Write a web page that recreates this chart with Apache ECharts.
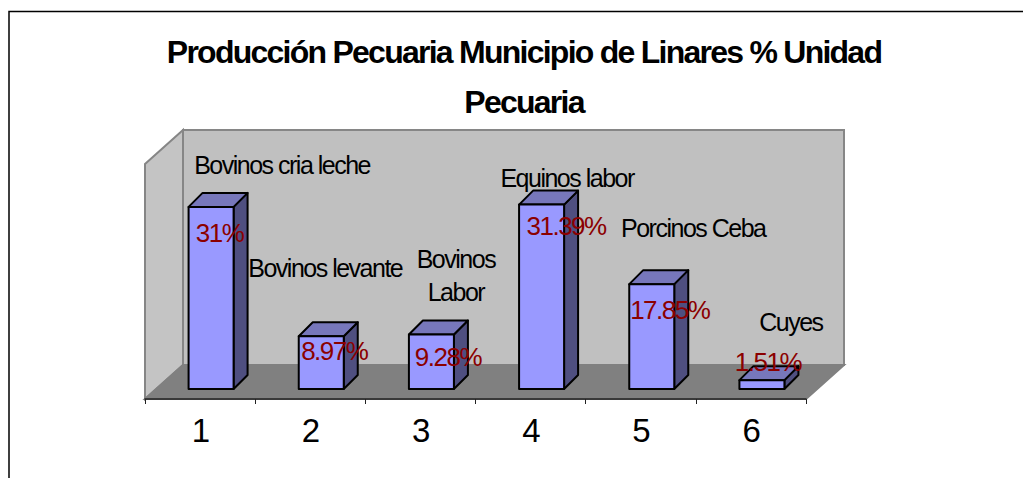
<!DOCTYPE html>
<html>
<head>
<meta charset="utf-8">
<script src="https://cdn.jsdelivr.net/npm/echarts@6/dist/echarts.min.js"></script>
<style>
    html, body, #main { width: 100%; height: 100%; margin: 0; background: #fff; }
    /* the original has squeezed glyph spacing */
    #main text { letter-spacing: -1.5px; }
    #main text[style*="bold"] { letter-spacing: -1.75px; }
</style>
</head>
<body>
<div id="main"></div>
<script>
var titleText = 'Producción Pecuaria Municipio de Linares % Unidad\nPecuaria';
var categories = ['1', '2', '3', '4', '5', '6'];
var values = [31, 8.97, 9.28, 31.39, 17.85, 1.51];
var valueLabels = ['31%', '8.97%', '9.28%', '31.39%', '17.85%', '1.51%'];
var names = ['Bovinos cria leche', 'Bovinos levante', 'Bovinos\nLabor', 'Equinos labor', 'Porcinos Ceba', 'Cuyes'];

// hand placed labels, px from top centre of the bar front
var nameNudge = [[71, -42], [4, -68], [24.5, -58.5], [25.5, -27], [41.5, -56], [29, -58]];
var valueNudge = [[8.5, 26], [13, 15], [16.5, 23], [24.5, 21], [18, 26], [6, -18]];

var FLOOR_DX = 38, FLOOR_DY = -34;   // wall depth
var BAR_DX = 11, BAR_DY = -10;       // bar front inside the floor
var BAR_DEPTH = 14;
var BAR_W = 45;
var FONT = '"Liberation Sans", Arial, sans-serif';

function barShape(points, fill) {
    return {
        type: 'polygon',
        shape: { points: points },
        style: { fill: fill, stroke: '#000', lineWidth: 2, lineJoin: 'round' }
    };
}

function wallShape(points, fill, stroke) {
    return {
        type: 'polygon',
        shape: { points: points },
        style: { fill: fill, stroke: stroke, lineWidth: 2 }
    };
}

function renderWalls(params, api) {
    var r = params.coordSys;
    var l = r.x, b = r.y + r.height, t = r.y, w = r.width;
    var dx = FLOOR_DX, dy = FLOOR_DY;
    return {
        type: 'group',
        children: [
            wallShape([[l + dx, t + dy], [l + w + dx, t + dy], [l + w + dx, b + dy], [l + dx, b + dy]], '#c0c0c0', '#868686'),
            wallShape([[l, t], [l + dx, t + dy], [l + dx, b + dy], [l, b]], '#c4c4c4', '#868686'),
            wallShape([[l, b], [l + dx, b + dy], [l + w + dx, b + dy], [l + w, b]], '#808080', '#808080')
        ]
    };
}

function renderBar(params, api) {
    var top = api.coord([api.value(0), api.value(1)]);
    var base = api.coord([api.value(0), 0]);
    var x0 = top[0] + BAR_DX - BAR_W / 2, x1 = x0 + BAR_W;
    var y0 = top[1] + BAR_DY, y1 = base[1] + BAR_DY;
    var d = BAR_DEPTH;
    return {
        type: 'group',
        children: [
            barShape([[x1, y0], [x1 + d, y0 - d], [x1 + d, y1 - d], [x1, y1]], '#4f4f80'),
            barShape([[x0, y0], [x0 + d, y0 - d], [x1 + d, y0 - d], [x1, y0]], '#7777bb'),
            barShape([[x0, y0], [x1, y0], [x1, y1], [x0, y1]], '#9999ff')
        ]
    };
}

function labelShape(x, y, text, size, color) {
    return {
        type: 'text',
        x: x,
        y: y,
        style: {
            text: text,
            fill: color,
            font: size + 'px ' + FONT,
            align: 'center',
            verticalAlign: 'middle',
            lineHeight: 33
        }
    };
}

function renderLabels(params, api) {
    var i = params.dataIndex;
    var top = api.coord([api.value(0), api.value(1)]);
    var cx = top[0] + BAR_DX, cy = top[1] + BAR_DY;
    return {
        type: 'group',
        children: [
            labelShape(cx + nameNudge[i][0], cy + nameNudge[i][1], names[i], 25, '#000'),
            labelShape(cx + valueNudge[i][0], cy + valueNudge[i][1], valueLabels[i], 26, '#8b0000')
        ]
    };
}

var chart = echarts.init(document.getElementById('main'), null, { renderer: 'svg' });

chart.setOption({
    animation: false,
    title: {
        text: titleText,
        left: 519,
        top: 22,
        textAlign: 'center',
        textStyle: {
            fontFamily: FONT,
            fontSize: 32,
            fontWeight: 'bold',
            color: '#000',
            lineHeight: 50
        }
    },
    grid: { left: 145, right: 217, top: 164, bottom: 79 },
    xAxis: {
        type: 'category',
        data: categories,
        axisLine: { lineStyle: { color: '#222', width: 1.5 } },
        axisTick: { show: true, length: 5, lineStyle: { color: '#222', width: 1 } },
        axisLabel: { fontFamily: FONT, fontSize: 33, color: '#000', margin: 15 },
        z: 3
    },
    yAxis: { type: 'value', min: 0, max: 40, show: false },
    graphic: [{
        type: 'rect',
        shape: { x: 9, y: 11.5, width: 1040, height: 480 },
        style: { fill: 'none', stroke: '#000', lineWidth: 1.5 },
        silent: true
    }],
    series: [{
        type: 'custom',
        renderItem: renderWalls,
        data: [0],
        silent: true,
        clip: false,
        z: 1
    }, {
        type: 'custom',
        renderItem: renderBar,
        data: categories.map(function (c, i) { return [i, values[i]]; }),
        clip: false,
        z: 4
    }, {
        type: 'custom',
        renderItem: renderLabels,
        data: categories.map(function (c, i) { return [i, values[i]]; }),
        clip: false,
        z: 5
    }]
});
</script>
</body>
</html>
